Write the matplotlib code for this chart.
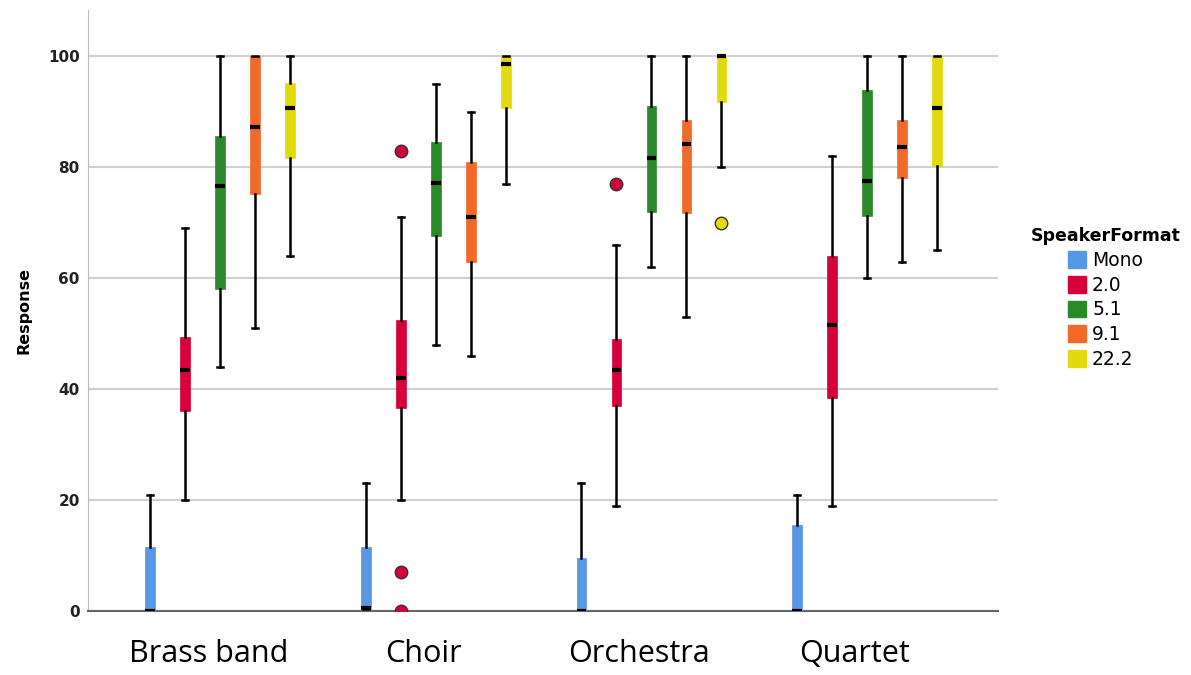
import matplotlib
matplotlib.use("Agg")
import matplotlib.pyplot as plt
import matplotlib.transforms as mtransforms
from matplotlib.patches import Patch

# ---- data ----
groups = ["Brass band", "Choir", "Orchestra", "Quartet"]
formats = ["Mono", "2.0", "5.1", "9.1", "22.2"]
colors = ["#5797E3", "#D8003A", "#2A8A2A", "#F26A2A", "#E2D90E"]

# per format: values for the 4 groups
mono_q1 = [0, 0, 0, 0]
mono_med = [0, 0.5, 0, 0]
mono_q3 = [11.5, 11.5, 9.5, 15.5]
mono_lo = [0, 0, 0, 0]
mono_hi = [21, 23, 23, 21]
mono_fl = [[], [], [], []]

s20_q1 = [36, 36.6, 37, 38.4]
s20_med = [43.4, 42, 43.4, 51.5]
s20_q3 = [49.4, 52.4, 49, 64]
s20_lo = [20, 20, 19, 19]
s20_hi = [69, 71, 66, 82]
s20_fl = [[], [83, 7, 0], [77], []]

s51_q1 = [58, 67.6, 72, 71.2]
s51_med = [76.6, 77.1, 81.6, 77.5]
s51_q3 = [85.6, 84.5, 91, 94]
s51_lo = [44, 48, 62, 60]
s51_hi = [100, 95, 100, 100]
s51_fl = [[], [], [], []]

s91_q1 = [75.1, 63, 71.7, 78]
s91_med = [87.2, 71, 84.1, 83.6]
s91_q3 = [100, 81, 88.5, 88.5]
s91_lo = [51, 46, 53, 63]
s91_hi = [100, 90, 100, 100]
s91_fl = [[], [], [], []]

s222_q1 = [81.6, 90.6, 91.7, 80.2]
s222_med = [90.6, 98.6, 100, 90.6]
s222_q3 = [95.1, 100, 100, 100]
s222_lo = [64, 77, 80, 65]
s222_hi = [100, 100, 100, 100]
s222_fl = [[], [], [70], []]

series = [
    (mono_q1, mono_med, mono_q3, mono_lo, mono_hi, mono_fl),
    (s20_q1, s20_med, s20_q3, s20_lo, s20_hi, s20_fl),
    (s51_q1, s51_med, s51_q3, s51_lo, s51_hi, s51_fl),
    (s91_q1, s91_med, s91_q3, s91_lo, s91_hi, s91_fl),
    (s222_q1, s222_med, s222_q3, s222_lo, s222_hi, s222_fl),
]
yticks = [0, 20, 40, 60, 80, 100]

# ---- figure ----
fig = plt.figure(figsize=(11.91, 6.75), dpi=100)
ax = fig.add_axes([0.074, 0.0948, 0.764, 0.89])

offset = 0.1625
for i, (q1, med, q3, lo, hi, fl) in enumerate(series):
    stats = []
    for g in range(len(groups)):
        stats.append(dict(q1=q1[g], med=med[g], q3=q3[g], whislo=lo[g],
                          whishi=hi[g], fliers=fl[g]))
    pos = [g + (i - 2) * offset for g in range(len(groups))]
    ax.bxp(stats, positions=pos, widths=0.045, patch_artist=True,
           showfliers=True, manage_ticks=False, capwidths=0.028,
           boxprops=dict(facecolor=colors[i], edgecolor=colors[i], lw=0.5),
           medianprops=dict(color="black", lw=3, solid_capstyle="butt"),
           whiskerprops=dict(color="black", lw=1.8),
           capprops=dict(color="black", lw=1.8),
           flierprops=dict(marker="o", markersize=9, markerfacecolor=colors[i],
                           markeredgecolor="#333333", markeredgewidth=1.0),
           zorder=3)

ax.set_xlim(-0.613, 3.608)
ax.set_ylim(0, 108.3)
ax.set_yticks(yticks)
ax.set_yticklabels([str(t) for t in yticks], fontsize=11, fontweight="bold",
                   color="#222222")
ax.set_xticks(range(len(groups)))
ax.set_xticklabels(groups, fontsize=22, family="Open Sans")
ax.tick_params(axis="x", length=0, pad=20)
ax.tick_params(axis="y", length=0, pad=6)
shift = mtransforms.ScaledTranslation(-0.12, 0, fig.dpi_scale_trans)
for lab in ax.get_xticklabels():
    lab.set_transform(lab.get_transform() + shift)
ax.yaxis.grid(True, color="#D0D0D0", lw=1.5, zorder=0)
ax.set_axisbelow(True)
for s in ["top", "right"]:
    ax.spines[s].set_visible(False)
ax.spines["left"].set_color("#BBBBBB")
ax.spines["bottom"].set_color("#666666")
ax.spines["bottom"].set_linewidth(1.5)
ax.set_ylabel("Response", fontsize=11.5, fontweight="bold", labelpad=12)

handles = [Patch(facecolor=c, edgecolor=c) for c in colors]
leg = fig.legend(handles, formats, title="SpeakerFormat", loc="upper left",
                 bbox_to_anchor=(0.851, 0.688), frameon=False, fontsize=13.5,
                 title_fontproperties=dict(weight="bold", size=12.5),
                 handlelength=1.0, handleheight=1.0, handletextpad=0.3,
                 labelspacing=0.3)

fig.savefig("out.png", dpi=100)
